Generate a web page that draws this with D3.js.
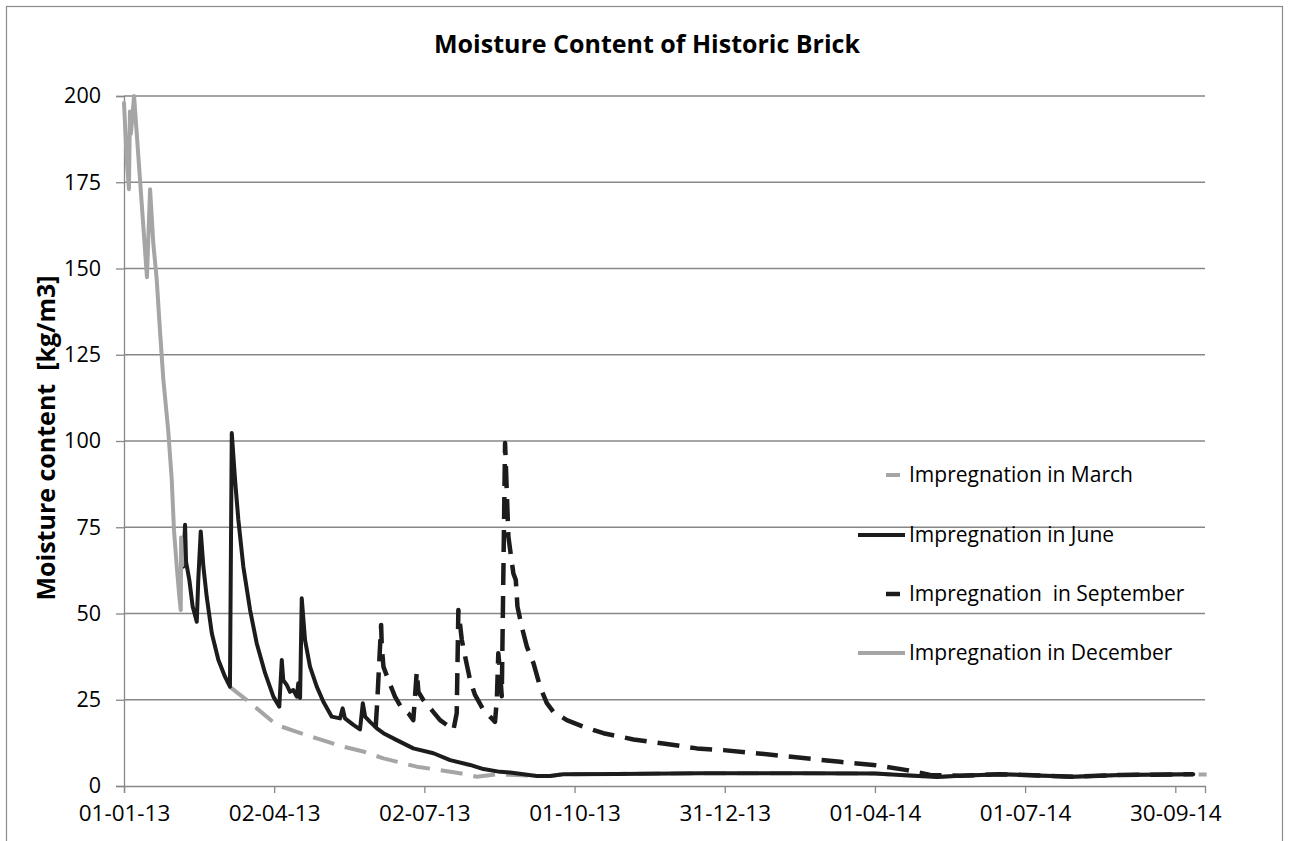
<!DOCTYPE html>
<html>
<head>
<meta charset="utf-8">
<script src="https://cdn.jsdelivr.net/npm/d3@7"></script>
<style>
  body { margin: 0; background: #fff; }
  text { font-family: "Open Sans", "DejaVu Sans", sans-serif; }
</style>
</head>
<body>
<svg id="chart" width="1289" height="841"></svg>
<script>
// ---------- data ----------
const chartTitle = "Moisture Content of Historic Brick";
const yAxisTitle = "Moisture content  [kg/m3]";
const startDate = "2013-01-01";
const endDate = "2014-10-18";
const xTickDates = ["2013-01-01","2013-04-02","2013-07-02","2013-10-01","2013-12-31","2014-04-01","2014-07-01","2014-09-30"];
const yTicks = [0, 25, 50, 75, 100, 125, 150, 175, 200];
const seriesNames = ["Impregnation in March", "Impregnation in June", "Impregnation  in September", "Impregnation in December"];

// day offsets from 01-01-13 and moisture content [kg/m3]
const marchDays   = [64.2, 65.3, 74.4, 92.5, 104.7, 116.8, 132.9, 145, 157.2, 177.4, 191.5, 203.6, 213.8, 225.9, 250.1, 258.2, 266.2, 298.6, 349.1, 409.7, 455.2, 470.3, 492.5, 506.7, 530.9, 575.2, 603.6, 647.9, 656];
const marchValues = [28.8, 28.3, 24.9, 17.7, 15.7, 13.8, 11.4, 10.0, 8.0, 5.6, 4.6, 3.7, 2.7, 3.4, 2.9, 2.9, 3.4, 3.5, 3.7, 3.7, 3.6, 3.2, 2.6, 3.0, 3.4, 2.7, 3.2, 3.4, 3.3];

const juneDays   = [35.3, 35.9, 37, 37.6, 39.6, 41.6, 44.1, 45, 46.5, 48.1, 50.1, 53.2, 57.2, 61.2, 64.2, 65.3, 67.3, 69.3, 72.3, 76.4, 80.4, 85.5, 90.5, 94.1, 95.6, 96.5, 98.6, 100.6, 102.6, 104.7, 105.6, 106.7, 107.7, 109.7, 112.7, 116.8, 120.8, 125.9, 130.9, 132.5, 133.9, 139, 143, 144.7, 146.1, 149.1, 153.2, 157.2, 165.3, 175.3, 187.5, 197.6, 209.7, 217.8, 227.9, 233.9, 250.1, 258.2, 266.2, 298.6, 349.1, 409.7, 455.2, 470.3, 492.5, 506.7, 530.9, 575.2, 603.6, 647.9];
const juneValues = [64, 63.6, 75.7, 65, 59.7, 52, 47.6, 59.7, 73.8, 63.6, 54.9, 44.3, 36.5, 31.7, 28.8, 102.3, 88.7, 77.1, 63.6, 51, 41.4, 32.7, 25.9, 23, 36.5, 30.7, 29.3, 27.3, 27.8, 25.9, 29.8, 25.5, 54.4, 42.3, 34.6, 28.8, 24.4, 20.1, 19.6, 22.5, 19.6, 17.7, 16.4, 24, 20.1, 18.6, 16.7, 15.3, 13.3, 10.9, 9.5, 7.5, 6.1, 4.9, 4.1, 3.9, 2.9, 2.9, 3.4, 3.5, 3.7, 3.7, 3.6, 3.2, 2.6, 3.0, 3.4, 2.7, 3.2, 3.4];

const septemberDays   = [152.5, 153.5, 155.8, 156.2, 157.2, 160.2, 164.2, 168.3, 172.3, 175.3, 177.4, 178.4, 181.4, 186.5, 191.5, 195.6, 199.6, 201.6, 202.6, 204.7, 206.7, 209.7, 212.7, 217.8, 222.8, 224.8, 225.9, 226.8, 227.9, 228.9, 230.9, 231.9, 232.9, 235.9, 237.4, 238.4, 241, 244.1, 248.1, 252.1, 256.2, 260.2, 268.3, 278.4, 290.5, 308.7, 328.9, 347.1, 363.2, 393.5, 433.9, 454.1, 474.4, 488.5, 506.7, 530.9, 575.2, 603.6, 647.9];
const septemberValues = [17, 24.9, 46.7, 40.4, 34.6, 30.7, 25.9, 22.5, 21.1, 19.1, 33.1, 27.3, 24.9, 22, 19.1, 17.7, 16.2, 21.1, 51, 42.3, 37.5, 30.7, 26.4, 22, 19.6, 18.6, 24.9, 38.5, 32.7, 26, 99.4, 85.8, 72.3, 61.7, 59.7, 52, 46.2, 40.4, 35.6, 28.8, 24, 21.5, 19.1, 17.2, 15.3, 13.5, 12.2, 10.9, 10.4, 9, 7, 6.1, 4.6, 3.2, 3.0, 3.4, 2.7, 3.2, 3.4];

const decemberDays   = [0, 1.6, 3, 3.6, 4.2, 6.1, 13.9, 15.8, 17.8, 19.8, 21.8, 23.8, 26.8, 28.9, 30.3, 31.9, 33.5, 34.4, 34.6, 35.3];
const decemberValues = [198, 182, 173, 195.5, 189, 200, 147.5, 173, 157, 147, 132, 118, 103, 89, 74, 64, 55, 51, 72, 64];

// ---------- layout ----------
const svg = d3.select("#chart");
const plot = { left: 124, right: 1205, top: 96, bottom: 786 };

const parse = d3.utcParse("%Y-%m-%d");
const t0 = parse(startDate);
const toDate = d => new Date(t0.getTime() + d * 864e5);

const x = d3.scaleUtc().domain([t0, parse(endDate)]).range([plot.left, plot.right]);
const y = d3.scaleLinear().domain([0, 200]).range([plot.bottom, plot.top]);

const gridColor = "#878787";
const grayLine = "#a5a5a5";
const blackLine = "#1c1c1c";

// outer frame
svg.append("rect").attr("x", 6.5).attr("y", 6.5).attr("width", 1276).attr("height", 880)
  .attr("fill", "#fff").attr("stroke", "#8c8c8c").attr("stroke-width", 1.2);

// title
svg.append("text").attr("x", 647).attr("y", 53).attr("text-anchor", "middle")
  .attr("font-size", 25).attr("font-weight", 700).attr("fill", "#000").text(chartTitle);

// y axis with gridlines
const yAxis = svg.append("g").attr("transform", `translate(${plot.left},0)`)
  .call(d3.axisLeft(y).tickValues(yTicks).tickSize(8).tickPadding(15).tickFormat(d3.format("d")));
yAxis.select(".domain").attr("stroke", gridColor).attr("stroke-width", 1.3);
yAxis.selectAll(".tick line").attr("stroke", gridColor).attr("stroke-width", 1.3);
yAxis.selectAll(".tick text").attr("font-size", 21.5).attr("fill", "#000")
  .style("font-family", "'Open Sans', sans-serif");

svg.append("g").selectAll("line").data(yTicks.filter(v => v > 0)).join("line")
  .attr("x1", plot.left).attr("x2", plot.right)
  .attr("y1", d => y(d)).attr("y2", d => y(d))
  .attr("stroke", gridColor).attr("stroke-width", 1.3);

// x axis
const xAxis = svg.append("g").attr("transform", `translate(0,${plot.bottom})`)
  .call(d3.axisBottom(x).tickValues(xTickDates.map(parse)).tickSize(7).tickPadding(12)
    .tickFormat(d3.utcFormat("%d-%m-%y")));
xAxis.select(".domain").attr("stroke", gridColor).attr("stroke-width", 1.3);
xAxis.selectAll(".tick line").attr("stroke", gridColor).attr("stroke-width", 1.3);
xAxis.selectAll(".tick text").attr("font-size", 22.5).attr("fill", "#000")
  .style("font-family", "'Open Sans', sans-serif");

// y axis title
svg.append("text").attr("transform", "translate(55,438) rotate(-90)")
  .attr("text-anchor", "middle").attr("font-size", 25).attr("font-weight", 700)
  .attr("fill", "#000").attr("xml:space", "preserve").style("white-space", "pre").text(yAxisTitle);

// series
const series = [
  { name: seriesNames[0], days: marchDays, values: marchValues, color: grayLine, dash: "22,11", width: 4 },
  { name: seriesNames[1], days: juneDays, values: juneValues, color: blackLine, dash: null, width: 4 },
  { name: seriesNames[2], days: septemberDays, values: septemberValues, color: blackLine, dash: "22,11", width: 4.5 },
  { name: seriesNames[3], days: decemberDays, values: decemberValues, color: grayLine, dash: null, width: 4 }
];

const line = d3.line().x(p => x(p[0])).y(p => y(p[1])).curve(d3.curveLinear);

const drawOrder = [0, 2, 1, 3];
drawOrder.forEach(i => {
  const s = series[i];
  const pts = s.days.map((d, k) => [toDate(d), s.values[k]]);
  svg.append("path").datum(pts)
    .attr("d", line)
    .attr("fill", "none")
    .attr("stroke", s.color)
    .attr("stroke-width", s.width)
    .attr("stroke-linejoin", "round")
    .attr("stroke-linecap", s.dash ? "butt" : "round")
    .attr("stroke-dasharray", s.dash);
});

// legend
const legend = svg.append("g");
const legendY = [475, 535, 594, 653];
series.forEach((s, i) => {
  const g = legend.append("g").attr("transform", `translate(0,${legendY[i]})`);
  if (s.dash) {
    g.append("line").attr("x1", 886).attr("x2", 900).attr("y1", 0).attr("y2", 0)
      .attr("stroke", s.color).attr("stroke-width", s.width);
  } else {
    g.append("line").attr("x1", 858).attr("x2", 905).attr("y1", 0).attr("y2", 0)
      .attr("stroke", s.color).attr("stroke-width", s.width);
  }
  g.append("text").attr("x", 909).attr("y", 0).attr("dy", "0.35em")
    .attr("font-size", 21).attr("fill", "#000")
    .attr("xml:space", "preserve").style("white-space", "pre").text(s.name);
});
</script>
</body>
</html>
